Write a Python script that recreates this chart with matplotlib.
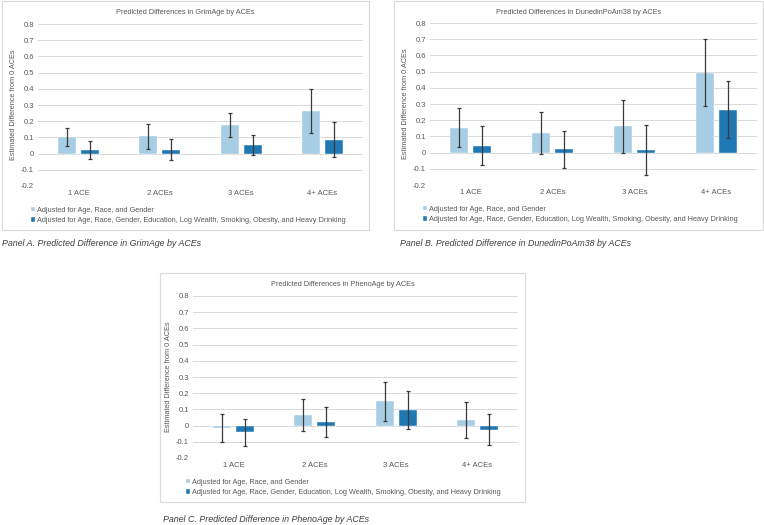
import numpy as np
import matplotlib.pyplot as plt
from matplotlib.patches import Rectangle

plt.rcParams['font.family'] = ['Liberation Sans', 'DejaVu Sans']

categories = ['1 ACE', '2 ACEs', '3 ACEs', '4+ ACEs']
series_names = ['Adjusted for Age, Race, and Gender',
                'Adjusted for Age, Race, Gender, Education, Log Wealth, Smoking, Obesity, and Heavy Drinking']

# GrimAge
grim_base = [0.105, 0.11, 0.175, 0.26]
grim_base_lo = [0.05, 0.03, 0.105, 0.125]
grim_base_hi = [0.16, 0.185, 0.25, 0.397]
grim_full = [0.02, 0.02, 0.052, 0.086]
grim_full_lo = [-0.035, -0.042, -0.008, -0.023]
grim_full_hi = [0.075, 0.088, 0.113, 0.197]

# DunedinPoAm38
dun_base = [0.15, 0.124, 0.163, 0.493]
dun_base_lo = [0.033, -0.006, 0.0, 0.287]
dun_base_hi = [0.274, 0.25, 0.327, 0.703]
dun_full = [0.043, 0.021, 0.019, 0.266]
dun_full_lo = [-0.078, -0.095, -0.138, 0.091]
dun_full_hi = [0.167, 0.136, 0.169, 0.443]

# PhenoAge
pheno_base = [-0.015, 0.064, 0.15, 0.035]
pheno_base_lo = [-0.10, -0.031, 0.03, -0.074]
pheno_base_hi = [0.07, 0.163, 0.27, 0.148]
pheno_full = [-0.04, 0.021, 0.095, -0.025]
pheno_full_lo = [-0.125, -0.07, -0.02, -0.117]
pheno_full_hi = [0.043, 0.115, 0.214, 0.072]

light = '#a6cde3'
dark = '#1f78b4'
W, H = 764, 525

fig = plt.figure(figsize=(W / 100, H / 100), dpi=100)


def px_box(x0, y0, x1, y1):
    # pixel coords (top-left origin) -> figure fraction rect
    return [x0 / W, 1 - y1 / H, (x1 - x0) / W, (y1 - y0) / H]


def panel(border, area, title, base, blo, bhi, full, flo, fhi, caption, cap_xy):
    bx = px_box(*border)
    fig.patches.append(Rectangle((bx[0], bx[1]), bx[2], bx[3], transform=fig.transFigure,
                                 fill=False, edgecolor='#d9d9d9', linewidth=0.8))
    ax = fig.add_axes(px_box(*area))
    x = np.arange(len(categories))
    w = 0.22
    off = 0.142
    b = np.array(base); f = np.array(full)
    ax.bar(x - off, b, w, color=light, edgecolor='white', linewidth=0.3, label=series_names[0], zorder=2)
    ax.bar(x + off, f, w, color=dark, edgecolor='white', linewidth=0.3, label=series_names[1], zorder=2)
    ax.errorbar(x - off, b, yerr=[b - np.array(blo), np.array(bhi) - b], fmt='none',
                ecolor='#3a3a3a', elinewidth=0.9, capsize=1.5, capthick=0.9, zorder=3)
    ax.errorbar(x + off, f, yerr=[f - np.array(flo), np.array(fhi) - f], fmt='none',
                ecolor='#3a3a3a', elinewidth=0.9, capsize=1.5, capthick=0.9, zorder=3)
    ax.set_xlim(-0.5, 3.5)
    ax.set_ylim(-0.2, 0.8)
    ax.set_yticks(np.arange(-0.2, 0.81, 0.1))
    ax.set_yticklabels(['-0.2', '-0.1', '0', '0.1', '0.2', '0.3', '0.4', '0.5', '0.6', '0.7', '0.8'])
    ax.set_xticks(x)
    ax.set_xticklabels(categories)
    ax.tick_params(length=0, labelsize=5.5, labelcolor='#595959', pad=3)
    ax.grid(axis='y', color='#d9d9d9', linewidth=0.7, zorder=0)
    for s in ax.spines.values():
        s.set_visible(False)
    ax.set_ylabel('Estimated Difference from 0 ACEs', fontsize=5.3, color='#595959', labelpad=3)
    cx = (border[0] + border[2]) / 2 / W
    fig.text(cx, 1 - (border[1] + 11) / H, title, fontsize=5.3, color='#595959',
             ha='center', va='center')
    ax.legend(loc='upper left', bbox_to_anchor=(-0.03, -0.11), frameon=False, fontsize=5.3,
              handlelength=0.55, handleheight=0.55, handletextpad=0.2, labelspacing=0.45,
              borderaxespad=0, labelcolor='#595959')
    fig.text(cap_xy[0] / W, 1 - cap_xy[1] / H, caption, fontsize=6.4, style='italic',
             color='#404040', ha='left', va='center')


panel((2, 1, 369, 230), (38, 24, 363, 186), 'Predicted Differences in GrimAge by ACEs',
      grim_base, grim_base_lo, grim_base_hi, grim_full, grim_full_lo, grim_full_hi,
      'Panel A. Predicted Difference in GrimAge by ACEs', (2, 244))
panel((394, 1, 763, 230), (430, 23, 757, 185), 'Predicted Differences in DunedinPoAm38 by ACEs',
      dun_base, dun_base_lo, dun_base_hi, dun_full, dun_full_lo, dun_full_hi,
      'Panel B. Predicted Difference in DunedinPoAm38 by ACEs', (400, 244))
panel((160, 273, 525, 502), (193, 296, 518, 458), 'Predicted Differences in PhenoAge by ACEs',
      pheno_base, pheno_base_lo, pheno_base_hi, pheno_full, pheno_full_lo, pheno_full_hi,
      'Panel C. Predicted Difference in PhenoAge by ACEs', (163, 519))

fig.savefig('out.png', dpi=100)
